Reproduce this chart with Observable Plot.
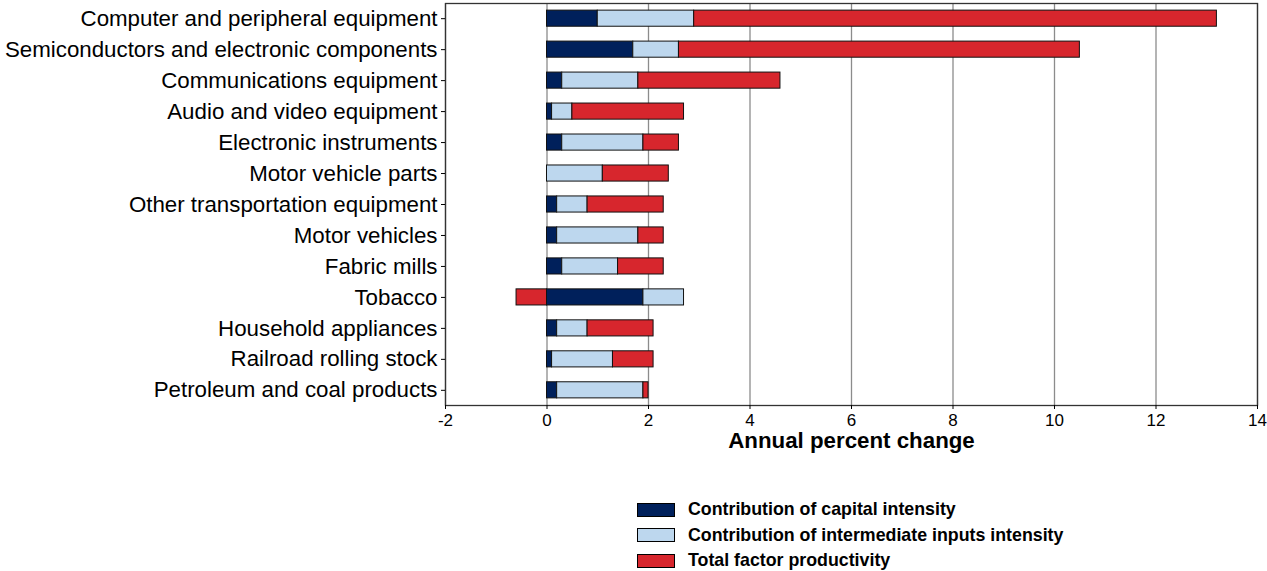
<!DOCTYPE html>
<html>
<head>
<meta charset="utf-8">
<script src="https://cdn.jsdelivr.net/npm/d3@7"></script>
<script src="https://cdn.jsdelivr.net/npm/@observablehq/plot@0.6"></script>
<style>
  body { margin: 0; background: #fff; font-family: "Liberation Sans", Arial, sans-serif; }
  #legend { position: relative; margin-left: 637px; margin-top: 37px; }
  .item { display: flex; align-items: center; height: 25.5px; font-weight: bold; font-size: 17.8px; color: #000; }
  .sw { width: 36px; height: 12px; border: 1px solid #000; margin-right: 13px; }
</style>
</head>
<body>
<div id="chart"></div>
<div id="legend"></div>
<script>
const categories = [
  "Computer and peripheral equipment",
  "Semiconductors and electronic components",
  "Communications equipment",
  "Audio and video equipment",
  "Electronic instruments",
  "Motor vehicle parts",
  "Other transportation equipment",
  "Motor vehicles",
  "Fabric mills",
  "Tobacco",
  "Household appliances",
  "Railroad rolling stock",
  "Petroleum and coal products"
];
const capital      = [1.0, 1.7, 0.3, 0.1, 0.3, 0.0, 0.2, 0.2, 0.3, 1.9, 0.2, 0.1, 0.2];
const intermediate = [1.9, 0.9, 1.5, 0.4, 1.6, 1.1, 0.6, 1.6, 1.1, 0.8, 0.6, 1.2, 1.7];
const tfp          = [10.3, 7.9, 2.8, 2.2, 0.7, 1.3, 1.5, 0.5, 0.9, -0.6, 1.3, 0.8, 0.1];
const seriesNames = [
  "Contribution of capital intensity",
  "Contribution of intermediate inputs intensity",
  "Total factor productivity"
];
const seriesColors = ["#00205B", "#BDD7EE", "#D7262D"];
const xTicks = [-2, 0, 2, 4, 6, 8, 10, 12, 14];

const rows = [];
categories.forEach((c, i) => {
  rows.push({cat: c, series: seriesNames[0], value: capital[i]});
  rows.push({cat: c, series: seriesNames[1], value: intermediate[i]});
  rows.push({cat: c, series: seriesNames[2], value: tfp[i]});
});

const chart = Plot.plot({
  width: 1267,
  height: 460,
  marginLeft: 445,
  marginRight: 10,
  marginTop: 3,
  marginBottom: 55,
  style: {fontFamily: "Liberation Sans, Arial, sans-serif", background: "#fff"},
  x: {domain: [-2, 14]},
  y: {domain: categories, paddingInner: 0.48, paddingOuter: 0.23, round: false},
  color: {domain: seriesNames, range: seriesColors},
  marks: [
    Plot.gridX(xTicks, {stroke: "#8c8c8c", strokeOpacity: 1, strokeWidth: 1.3}),
    Plot.barX(rows, Plot.stackX({x: "value", y: "cat", fill: "series", stroke: "#111", strokeWidth: 1, order: null})),
    Plot.frame({stroke: "#333", strokeWidth: 1.3}),
    Plot.axisX(xTicks, {tickSize: 4, tickPadding: 4, fontSize: 17, fill: "#000", label: null, tickFormat: d => String(d)}),
    Plot.axisY({tickSize: 4, tickPadding: 4, fontSize: 22.3, fill: "#000", label: null}),
    Plot.text(["Annual percent change"], {frameAnchor: "bottom", dy: 42, fontSize: 22.3, fontWeight: "bold", fill: "#000"})
  ]
});
document.getElementById("chart").appendChild(chart);

const legend = document.getElementById("legend");
seriesNames.forEach((n, i) => {
  const it = document.createElement("div");
  it.className = "item";
  const sw = document.createElement("div");
  sw.className = "sw";
  sw.style.background = seriesColors[i];
  const t = document.createElement("span");
  t.textContent = n;
  it.appendChild(sw); it.appendChild(t);
  legend.appendChild(it);
});
</script>
</body>
</html>
